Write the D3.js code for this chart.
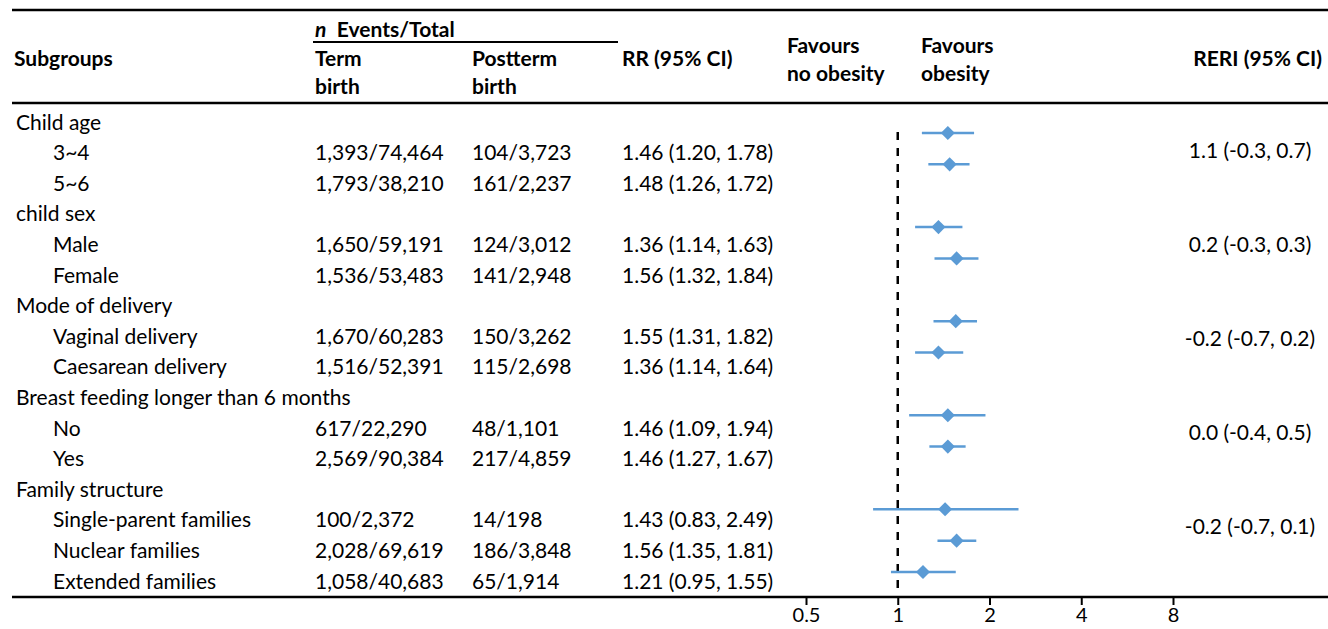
<!DOCTYPE html>
<html>
<head>
<meta charset="utf-8">
<script src="https://cdn.jsdelivr.net/npm/d3@7"></script>
<style>
  html, body { margin: 0; padding: 0; background: #fff; }
  svg text { font-family: Lato, "Noto Sans", sans-serif; fill: #000; }
</style>
</head>
<body>
<svg id="chart" width="1328" height="629"></svg>
<script>
// ---------- DATA ----------
const groupTitles = ["Child age", "child sex", "Mode of delivery", "Breast feeding longer than 6 months", "Family structure"];
const groupSizes = [2, 2, 2, 2, 3];
const subgroups = ["3~4", "5~6", "Male", "Female", "Vaginal delivery", "Caesarean delivery", "No", "Yes",
                   "Single-parent families", "Nuclear families", "Extended families"];
const termBirth = ["1,393/74,464", "1,793/38,210", "1,650/59,191", "1,536/53,483", "1,670/60,283", "1,516/52,391",
                   "617/22,290", "2,569/90,384", "100/2,372", "2,028/69,619", "1,058/40,683"];
const posttermBirth = ["104/3,723", "161/2,237", "124/3,012", "141/2,948", "150/3,262", "115/2,698",
                       "48/1,101", "217/4,859", "14/198", "186/3,848", "65/1,914"];
const rr   = [1.46, 1.48, 1.36, 1.56, 1.55, 1.36, 1.46, 1.46, 1.43, 1.56, 1.21];
const rrLo = [1.20, 1.26, 1.14, 1.32, 1.31, 1.14, 1.09, 1.27, 0.83, 1.35, 0.95];
const rrHi = [1.78, 1.72, 1.63, 1.84, 1.82, 1.64, 1.94, 1.67, 2.49, 1.81, 1.55];
const reri = ["1.1 (-0.3, 0.7)", "0.2 (-0.3, 0.3)", "-0.2 (-0.7, 0.2)", "0.0 (-0.4, 0.5)", "-0.2 (-0.7, 0.1)"];
const xTicks = [0.5, 1, 2, 4, 8];

// ---------- BUILD ROWS ----------
const rows = [];
let k = 0;
groupTitles.forEach((g, gi) => {
  rows.push({type: "header", label: g, gi});
  for (let j = 0; j < groupSizes[gi]; j++) {
    rows.push({type: "item", label: subgroups[k], term: termBirth[k], post: posttermBirth[k],
               rr: rr[k], lo: rrLo[k], hi: rrHi[k], gi, first: j === 0});
    k++;
  }
});
rows.forEach((r, i) => r.idx = i);

// ---------- LAYOUT ----------
const svg = d3.select("#chart");
const FS = 21;
const lineLeft = 12, lineRight = 1328;
const yTop = 10, yUnder = 42, yHeadBottom = 103, yBottom = 597;

// table rows scale
const yRow = d3.scaleLinear().domain([0, rows.length - 1]).range([121, 580]);
// plot rows scale (the plot rows are spaced slightly differently from the table rows)
const yPlot = d3.scaleLinear().domain([1, rows.length - 1]).range([133, 572]);
const x = d3.scaleLog().base(2).domain([0.5, 8]).range([806, 1173]);

const col = {sub: 16, subIndent: 53, term: 315, post: 472, rr: 622, fav1: 787, fav2: 921, reri: 1250};

// ---------- TABLE LINES ----------
const lines = svg.append("g").attr("stroke", "#000");
lines.append("line").attr("x1", lineLeft).attr("x2", lineRight).attr("y1", yTop).attr("y2", yTop).attr("stroke-width", 2.5);
lines.append("line").attr("x1", lineLeft).attr("x2", lineRight).attr("y1", yHeadBottom).attr("y2", yHeadBottom).attr("stroke-width", 2.5);
lines.append("line").attr("x1", col.term - 2).attr("x2", 618).attr("y1", yUnder).attr("y2", yUnder).attr("stroke-width", 2);
lines.append("line").attr("x1", lineLeft).attr("x2", lineRight).attr("y1", yBottom).attr("y2", yBottom).attr("stroke-width", 2.5);

// ---------- HEADER ----------
const hdr = svg.append("g").attr("font-size", FS).attr("font-weight", "bold").attr("dominant-baseline", "central");
const nEv = hdr.append("text").attr("x", col.term).attr("y", 28);
nEv.append("tspan").attr("font-style", "italic").text("n");
nEv.append("tspan").text("\u2002Events/Total");
hdr.append("text").attr("x", 14).attr("y", 57).text("Subgroups");
hdr.append("text").attr("x", col.term).attr("y", 57).text("Term");
hdr.append("text").attr("x", col.term).attr("y", 85).text("birth");
hdr.append("text").attr("x", col.post).attr("y", 57).text("Postterm");
hdr.append("text").attr("x", col.post).attr("y", 85).text("birth");
hdr.append("text").attr("x", col.rr).attr("y", 57).text("RR (95% CI)");
hdr.append("text").attr("x", col.fav1).attr("y", 44).text("Favours");
hdr.append("text").attr("x", col.fav1).attr("y", 72).text("no obesity");
hdr.append("text").attr("x", col.fav2).attr("y", 44).text("Favours");
hdr.append("text").attr("x", col.fav2).attr("y", 72).text("obesity");
hdr.append("text").attr("x", 1322).attr("y", 57).attr("text-anchor", "end").text("RERI (95% CI)");

// ---------- BODY TEXT ----------
const body = svg.append("g").attr("font-size", FS).attr("dominant-baseline", "central");
const rowG = body.selectAll("g.row").data(rows).join("g").attr("class", "row")
  .attr("transform", d => `translate(0,${yRow(d.idx)})`);
rowG.append("text").attr("x", d => d.type === "header" ? col.sub : col.subIndent).text(d => d.label);
const items = rowG.filter(d => d.type === "item");
items.append("text").attr("x", col.term).text(d => d.term);
items.append("text").attr("x", col.post).text(d => d.post);
items.append("text").attr("x", col.rr).text(d => `${d.rr.toFixed(2)} (${d.lo.toFixed(2)}, ${d.hi.toFixed(2)})`);

// ---------- RERI ----------
const firstItems = rows.filter(r => r.type === "item" && r.first);
body.selectAll("text.reri").data(firstItems).join("text").attr("class", "reri")
  .attr("x", col.reri).attr("text-anchor", "middle")
  .attr("y", d => (yPlot(d.idx) + yPlot(d.idx + 1)) / 2 + 1)
  .text(d => reri[d.gi]);

// ---------- FOREST PLOT ----------
const plot = svg.append("g");
plot.append("line")
  .attr("x1", x(1)).attr("x2", x(1))
  .attr("y1", yPlot(1) - 1).attr("y2", yBottom)
  .attr("stroke", "#000").attr("stroke-width", 2.5).attr("stroke-dasharray", "8,8");

const pts = rows.filter(r => r.type === "item");
plot.selectAll("line.ci").data(pts).join("line").attr("class", "ci")
  .attr("x1", d => x(d.lo)).attr("x2", d => x(d.hi))
  .attr("y1", d => yPlot(d.idx)).attr("y2", d => yPlot(d.idx))
  .attr("stroke", "#5B9BD5").attr("stroke-width", 2.5);
const diamond = d3.symbol().type(d3.symbolSquare).size(100);
plot.selectAll("path.pt").data(pts).join("path").attr("class", "pt")
  .attr("d", diamond)
  .attr("transform", d => `translate(${x(d.rr)},${yPlot(d.idx)}) rotate(45)`)
  .attr("fill", "#5B9BD5");

// ---------- AXIS ----------
const axis = d3.axisBottom(x).tickValues(xTicks).tickSize(8).tickPadding(3)
  .tickFormat(d => String(d));
const ax = svg.append("g").attr("transform", `translate(0,${yBottom})`).call(axis);
ax.select(".domain").remove();
ax.selectAll(".tick line").attr("stroke", "#000").attr("stroke-width", 2);
ax.selectAll(".tick text").attr("font-size", 20).attr("font-family", "Lato, 'Noto Sans', sans-serif").attr("fill", "#000");
</script>
</body>
</html>
